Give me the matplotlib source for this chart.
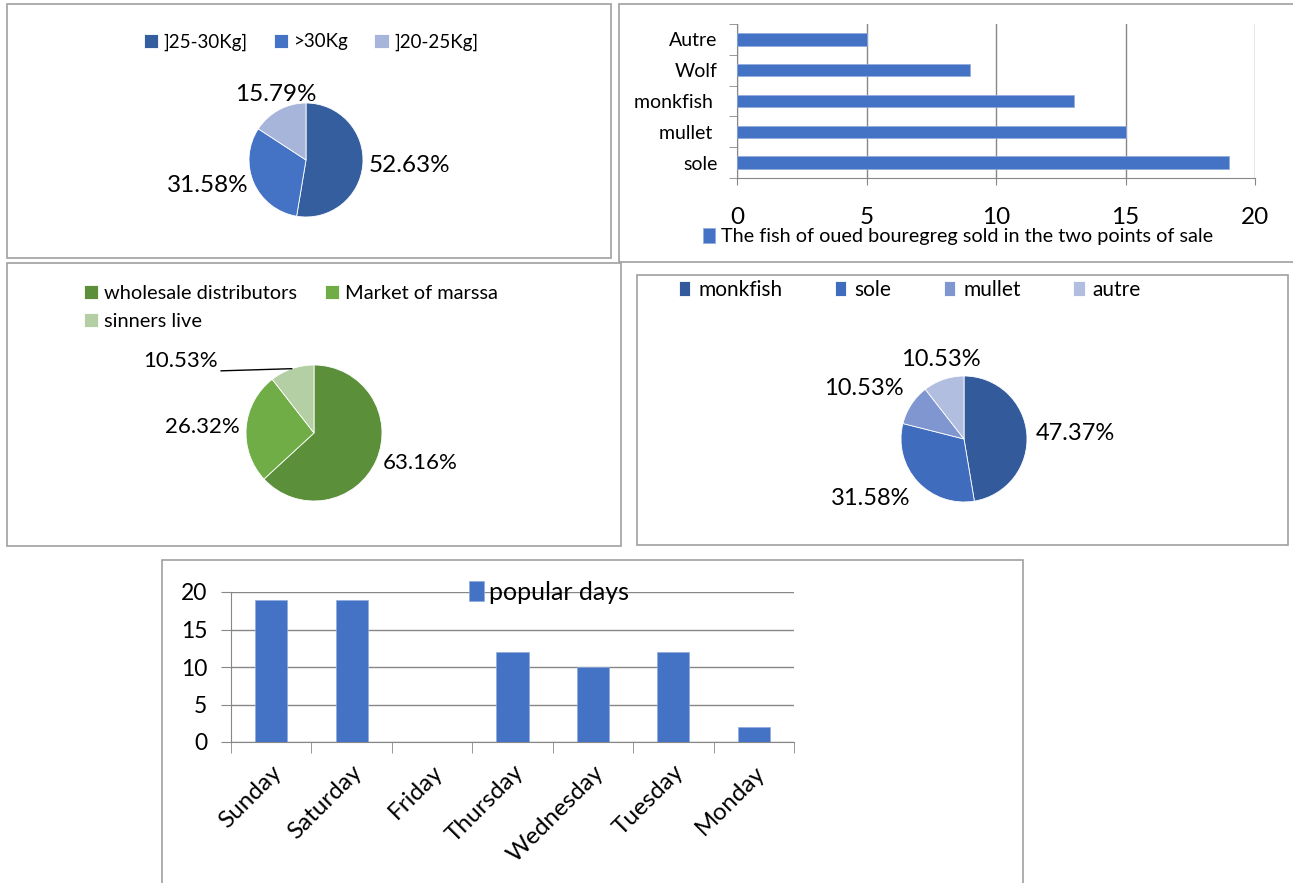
import numpy as np
import matplotlib
matplotlib.use("Agg")
import matplotlib.pyplot as plt
from matplotlib.patches import Rectangle

plt.rcParams['font.family'] = ['Lato', 'DejaVu Sans']

# data
weight_labels = [']25-30Kg]', '>30Kg', ']20-25Kg]']
weight_counts = [10, 6, 3]

fish_names = ['sole', 'mullet ', 'monkfish ', 'Wolf', 'Autre']
fish_counts = [19, 15, 13, 9, 5]
fish_legend = 'The fish of oued bouregreg sold in the two points of sale'

buyer_labels = ['wholesale distributors', 'Market of marssa', 'sinners live']
buyer_counts = [12, 5, 2]

species_labels = ['monkfish', 'sole', 'mullet', 'autre']
species_counts = [9, 6, 2, 2]

days = ['Sunday', 'Saturday', 'Friday', 'Thursday', 'Wednesday', 'Tuesday', 'Monday']
day_counts = [19, 19, 0, 12, 10, 12, 2]

W, H = 1293, 883
BLUE = '#4472C4'
GRID = '#878787'

fig = plt.figure(figsize=(W / 100, H / 100), dpi=100)


def rect(x0, y0, x1, y1):
    return [x0 / W, 1 - y1 / H, (x1 - x0) / W, (y1 - y0) / H]


def frame(x0, y0, x1, y1):
    fig.add_artist(Rectangle((x0 / W, 1 - y1 / H), (x1 - x0) / W, (y1 - y0) / H,
                             transform=fig.transFigure, fill=False,
                             edgecolor='#A0A0A0', linewidth=1.2))


def pie_axes(cx, cy, r, values, colors):
    ax = fig.add_axes(rect(cx - r, cy - r, cx + r, cy + r))
    wedges, _ = ax.pie(values, colors=colors, startangle=90, counterclock=False,
                       wedgeprops=dict(edgecolor='white', linewidth=0.6))
    ax.set_xlim(-1, 1)
    ax.set_ylim(-1, 1)
    ax.set_aspect('auto')
    ax.axis('off')
    return ax, wedges


def pie_labels(ax, wedges, values, dist, fs, skip=()):
    total = sum(values)
    for i, (w, v) in enumerate(zip(wedges, values)):
        if i in skip:
            continue
        a = np.deg2rad((w.theta1 + w.theta2) / 2)
        c, s = np.cos(a), np.sin(a)
        ha = 'left' if c > 0.5 else ('right' if c < -0.5 else 'center')
        va = 'bottom' if s > 0.5 else ('top' if s < -0.5 else 'center')
        ax.text(dist * c, dist * s, f'{100 * v / total:.2f}%', ha=ha, va=va,
                fontsize=fs, clip_on=False)


# frames
frame(7, 4, 611, 258)
frame(619, 4, 1300, 262)
frame(7, 263, 621, 546)
frame(637, 275, 1288, 545)
frame(162, 560, 1023, 890)

# panel 1: weight pie
ax1, w1 = pie_axes(306, 160, 57, weight_counts, ['#355E9F', BLUE, '#A7B5DA'])
pie_labels(ax1, w1, weight_counts, 1.1, 17.5)
fig.legend(w1, weight_labels, loc='center', bbox_to_anchor=(311 / W, 1 - 42 / H),
           ncol=3, frameon=False, fontsize=13.5, handlelength=0.75, handleheight=0.75,
           handletextpad=0.3, columnspacing=1.4)

# panel 2: fish horizontal bars
ax2 = fig.add_axes(rect(737, 24, 1255, 178))
ypos = np.arange(len(fish_names))
ax2.barh(ypos, fish_counts, height=0.4, color=BLUE, edgecolor='#8FAADC',
         linewidth=0.5, zorder=3, label=fish_legend)
ax2.set_xlim(0, 20)
ax2.set_ylim(-0.5, len(fish_names) - 0.5)
ax2.set_xticks([0, 5, 10, 15, 20])
ax2.xaxis.grid(True, color=GRID, linewidth=1)
ax2.set_axisbelow(True)
ax2.set_yticks(ypos)
ax2.set_yticklabels(fish_names)
ax2.set_yticks(np.arange(len(fish_names) + 1) - 0.5, minor=True)
ax2.tick_params(axis='y', which='major', length=0, pad=14, labelsize=14)
ax2.tick_params(axis='y', which='minor', length=6, color=GRID)
ax2.tick_params(axis='x', length=5, color=GRID, pad=16, labelsize=17.5)
for sp in ['top', 'right']:
    ax2.spines[sp].set_visible(False)
for sp in ['left', 'bottom']:
    ax2.spines[sp].set_color(GRID)
ax2.legend(loc='center', bbox_to_anchor=(0.427, -0.38), frameon=False, fontsize=14.3,
           handlelength=0.6, handleheight=0.8, handletextpad=0.3)

# panel 3: buyers pie
ax3, w3 = pie_axes(314, 433, 68, buyer_counts, ['#5B8F3A', '#70AD47', '#B5CFA5'])
pie_labels(ax3, w3, buyer_counts, 1.1, 16)
total3 = sum(buyer_counts)
a3 = np.deg2rad((w3[2].theta1 + w3[2].theta2) / 2)
ax3.texts[-1].remove()
ax3.annotate(f'{100 * buyer_counts[2] / total3:.2f}%', xy=(np.cos(a3), np.sin(a3)),
             xytext=(-1.41, 1.06), ha='right', va='center', fontsize=16,
             arrowprops=dict(arrowstyle='-', color='black', lw=1, relpos=(1, 0),
                             shrinkA=0, shrinkB=0))
h3 = [w3[0], w3[2], w3[1]]
l3 = [buyer_labels[0], buyer_labels[2], buyer_labels[1]]
fig.legend(h3, l3, loc='upper left', bbox_to_anchor=(66 / W, 1 - 267 / H),
           ncol=2, frameon=False, fontsize=14.4, handlelength=0.7, handleheight=0.7,
           handletextpad=0.3, columnspacing=1.4, labelspacing=0.55)

# panel 4: species pie
ax4, w4 = pie_axes(964, 439, 63, species_counts, ['#335A9A', '#3F6CBD', '#7F96D1', '#B2BEDF'])
pie_labels(ax4, w4, species_counts, 1.15, 17)
fig.legend(w4, species_labels, loc='center', bbox_to_anchor=(910 / W, 1 - 290 / H),
           ncol=4, frameon=False, fontsize=15, handlelength=0.55, handleheight=0.7,
           handletextpad=0.4, columnspacing=2.5)

# panel 5: popular days
ax5 = fig.add_axes(rect(231, 592, 794, 742))
x = np.arange(len(days))
ax5.bar(x, day_counts, width=0.4, color=BLUE, edgecolor='#8FAADC', linewidth=0.5,
        zorder=3, label='popular days')
ax5.set_xlim(-0.5, len(days) - 0.5)
ax5.set_ylim(0, 20)
ax5.set_yticks([0, 5, 10, 15, 20])
ax5.yaxis.grid(True, color=GRID, linewidth=1)
ax5.set_axisbelow(True)
ax5.set_xticks(x)
ax5.set_xticklabels(days, rotation=45, ha='right', rotation_mode='anchor')
ax5.set_xticks(np.arange(len(days) + 1) - 0.5, minor=True)
ax5.tick_params(axis='x', which='major', length=0, pad=14, labelsize=17.5)
ax5.tick_params(axis='x', which='minor', length=8, color=GRID)
ax5.tick_params(axis='y', length=7, color=GRID, labelsize=16.5, pad=10)
for sp in ['top', 'right']:
    ax5.spines[sp].set_visible(False)
for sp in ['left', 'bottom']:
    ax5.spines[sp].set_color(GRID)
ax5.legend(loc='center', bbox_to_anchor=(0.565, 1.0), frameon=False, fontsize=18,
           handlelength=0.6, handleheight=0.9, handletextpad=0.2)

fig.savefig('out.png', dpi=100)
